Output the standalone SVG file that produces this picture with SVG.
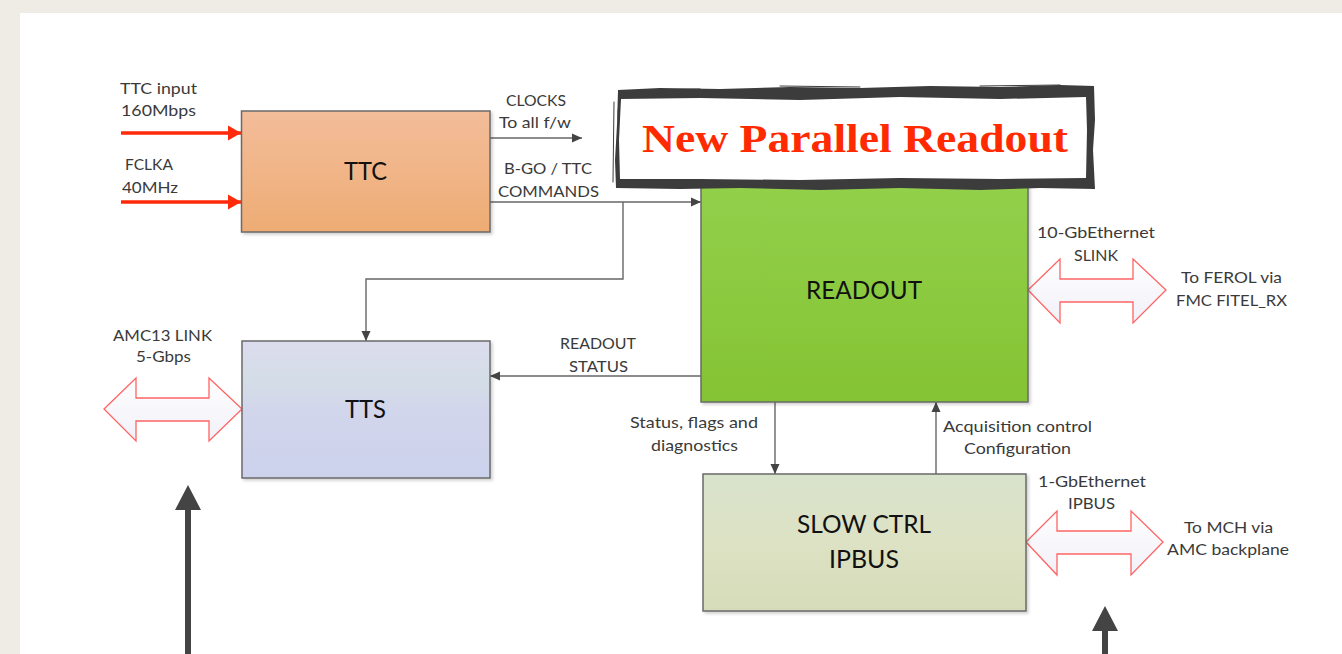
<svg xmlns="http://www.w3.org/2000/svg" width="1342" height="654" viewBox="0 0 1342 654">
  <defs>
    <style>
      .lbl { font-family: Lato, "Liberation Sans", sans-serif; font-size: 16px; fill: #3a3a3a; text-anchor: middle; }
      .name { font-family: Lato, "Liberation Sans", sans-serif; font-size: 25px; fill: #111; text-anchor: middle; }
      .box { stroke: #6a6a6a; stroke-width: 1.5; }
      .wire { fill: none; stroke: #666; stroke-width: 1.4; }
      .feed { fill: none; stroke: #ff2a0a; stroke-width: 3.5; }
      .link { fill: url(#linkFill); stroke: #ff6464; stroke-width: 1.3; stroke-linejoin: miter; }
      .big { fill: #444; }
      .brush { fill: #3c3c3c; }
      .scratch { fill: none; stroke: #3c3c3c; stroke-linecap: round; }
    </style>
    <linearGradient id="ttcFill" x1="0" y1="0" x2="0" y2="1">
      <stop offset="0" stop-color="#f3bd9a"/>
      <stop offset="1" stop-color="#eeac74"/>
    </linearGradient>
    <linearGradient id="ttsFill" x1="0" y1="0" x2="0" y2="1">
      <stop offset="0" stop-color="#dcdcee"/>
      <stop offset="0.3" stop-color="#d3dde6"/>
      <stop offset="0.5" stop-color="#d2d6ec"/>
      <stop offset="1" stop-color="#ccd2ec"/>
    </linearGradient>
    <linearGradient id="roFill" x1="0" y1="0" x2="0" y2="1">
      <stop offset="0" stop-color="#93d04c"/>
      <stop offset="1" stop-color="#84c333"/>
    </linearGradient>
    <linearGradient id="scFill" x1="0" y1="0" x2="0" y2="1">
      <stop offset="0" stop-color="#d8e3cc"/>
      <stop offset="0.5" stop-color="#dde2c4"/>
      <stop offset="1" stop-color="#d6dbb9"/>
    </linearGradient>
    <linearGradient id="linkFill" x1="0" y1="0" x2="0" y2="1">
      <stop offset="0" stop-color="#ffffff"/>
      <stop offset="1" stop-color="#f0f0f8"/>
    </linearGradient>
    <filter id="shadow" x="-5%" y="-5%" width="115%" height="115%">
      <feDropShadow dx="2" dy="2" stdDeviation="1.5" flood-color="#000" flood-opacity="0.18"/>
    </filter>
    <marker id="tip" markerUnits="userSpaceOnUse" markerWidth="12" markerHeight="10" refX="10" refY="5" orient="auto">
      <path d="M0,0.5 L10,5 L0,9.5 Z" fill="#444"/>
    </marker>
    <marker id="redTip" markerUnits="userSpaceOnUse" markerWidth="14" markerHeight="16" refX="13" refY="8" orient="auto">
      <path d="M0,0.5 L13,8 L0,15.5 Z" fill="#ff2a0a"/>
    </marker>
  </defs>

  <!-- paper background and white sheet -->
  <rect x="0" y="0" width="1342" height="654" fill="#efece6"/>
  <rect x="20" y="13" width="1322" height="641" fill="#ffffff"/>

  <!-- connectors -->
  <g id="connectors">
    <line class="feed" x1="121" y1="133" x2="241" y2="133" marker-end="url(#redTip)"/>
    <line class="feed" x1="121" y1="202" x2="241" y2="202" marker-end="url(#redTip)"/>
    <line class="wire" x1="490" y1="138" x2="582" y2="138" marker-end="url(#tip)"/>
    <line class="wire" x1="490" y1="202" x2="701" y2="202" marker-end="url(#tip)"/>
    <polyline class="wire" points="623,202 623,279 366,279 366,341" marker-end="url(#tip)"/>
    <line class="wire" x1="701" y1="376" x2="490" y2="376" marker-end="url(#tip)"/>
    <line class="wire" x1="775" y1="402" x2="775" y2="474" marker-end="url(#tip)"/>
    <line class="wire" x1="936" y1="474" x2="936" y2="402" marker-end="url(#tip)"/>

    <!-- external bidirectional links -->
    <path class="link" d="M104,409 L136,378 L136,398 L209,398 L209,378 L242,409 L209,441 L209,421 L136,421 L136,441 Z"/>
    <path class="link" d="M1028,290 L1060,259 L1060,279 L1133,279 L1133,259 L1166,290 L1133,323 L1133,302 L1060,302 L1060,323 Z"/>
    <path class="link" d="M1026,542 L1057,511 L1057,531 L1131,531 L1131,511 L1163,542 L1131,575 L1131,554 L1057,554 L1057,575 Z"/>

    <!-- heavy upward pointers -->
    <path class="big" d="M185,654 L185,510 L175,510 L188,485 L201,510 L191,510 L191,654 Z"/>
    <path class="big" d="M1102,654 L1102,631 L1092,631 L1105,606 L1118,631 L1108,631 L1108,654 Z"/>
  </g>

  <!-- connector labels -->
  <g id="labels" lengthAdjust="spacingAndGlyphs">
    <text class="lbl" x="158.5" y="94" textLength="77" lengthAdjust="spacingAndGlyphs">TTC input</text>
    <text class="lbl" x="158.5" y="116" textLength="75" lengthAdjust="spacingAndGlyphs">160Mbps</text>
    <text class="lbl" x="149" y="170" textLength="48" lengthAdjust="spacingAndGlyphs">FCLKA</text>
    <text class="lbl" x="150" y="193" textLength="56" lengthAdjust="spacingAndGlyphs">40MHz</text>
    <text class="lbl" x="536" y="106" textLength="60" lengthAdjust="spacingAndGlyphs">CLOCKS</text>
    <text class="lbl" x="535" y="128" textLength="72" lengthAdjust="spacingAndGlyphs">To all f/w</text>
    <text class="lbl" x="548" y="174" textLength="88" lengthAdjust="spacingAndGlyphs">B-GO / TTC</text>
    <text class="lbl" x="548.5" y="197" textLength="101" lengthAdjust="spacingAndGlyphs">COMMANDS</text>
    <text class="lbl" x="598" y="349" textLength="76" lengthAdjust="spacingAndGlyphs">READOUT</text>
    <text class="lbl" x="598.5" y="372" textLength="59" lengthAdjust="spacingAndGlyphs">STATUS</text>
    <text class="lbl" x="162.5" y="341" textLength="99" lengthAdjust="spacingAndGlyphs">AMC13 LINK</text>
    <text class="lbl" x="163.5" y="362" textLength="55" lengthAdjust="spacingAndGlyphs">5-Gbps</text>
    <text class="lbl" x="694" y="428" textLength="128" lengthAdjust="spacingAndGlyphs">Status, flags and</text>
    <text class="lbl" x="694.5" y="451" textLength="87" lengthAdjust="spacingAndGlyphs">diagnostics</text>
    <text class="lbl" x="1017.5" y="432" textLength="149" lengthAdjust="spacingAndGlyphs">Acquisition control</text>
    <text class="lbl" x="1017.5" y="454" textLength="107" lengthAdjust="spacingAndGlyphs">Configuration</text>
    <text class="lbl" x="1096" y="238" textLength="118" lengthAdjust="spacingAndGlyphs">10-GbEthernet</text>
    <text class="lbl" x="1096" y="261" textLength="44" lengthAdjust="spacingAndGlyphs">SLINK</text>
    <text class="lbl" x="1231.5" y="283" textLength="101" lengthAdjust="spacingAndGlyphs">To FEROL via</text>
    <text class="lbl" x="1231.5" y="306" textLength="111" lengthAdjust="spacingAndGlyphs">FMC FITEL_RX</text>
    <text class="lbl" x="1092" y="487" textLength="108" lengthAdjust="spacingAndGlyphs">1-GbEthernet</text>
    <text class="lbl" x="1091.5" y="509" textLength="47" lengthAdjust="spacingAndGlyphs">IPBUS</text>
    <text class="lbl" x="1228.5" y="533" textLength="89" lengthAdjust="spacingAndGlyphs">To MCH via</text>
    <text class="lbl" x="1228" y="555" textLength="122" lengthAdjust="spacingAndGlyphs">AMC backplane</text>
  </g>

  <!-- blocks -->
  <g id="ttc">
    <rect class="box" x="241.5" y="111" width="248.5" height="121" fill="url(#ttcFill)" filter="url(#shadow)"/>
    <text class="name" x="365.5" y="180" textLength="43" lengthAdjust="spacingAndGlyphs">TTC</text>
  </g>
  <g id="tts">
    <rect class="box" x="242" y="341" width="248" height="137" fill="url(#ttsFill)" filter="url(#shadow)"/>
    <text class="name" x="365.5" y="418" textLength="41" lengthAdjust="spacingAndGlyphs">TTS</text>
  </g>
  <g id="readout">
    <rect class="box" x="701" y="179" width="327" height="223" fill="url(#roFill)" filter="url(#shadow)"/>
    <text class="name" x="864" y="299" textLength="116" lengthAdjust="spacingAndGlyphs">READOUT</text>
  </g>
  <g id="slow-ctrl">
    <rect class="box" x="703" y="474" width="323" height="137" fill="url(#scFill)" filter="url(#shadow)"/>
    <text class="name" x="864" y="533" textLength="134" lengthAdjust="spacingAndGlyphs">SLOW CTRL</text>
    <text class="name" x="864" y="568" textLength="70" lengthAdjust="spacingAndGlyphs">IPBUS</text>
  </g>

  <!-- brush-framed title banner -->
  <g id="title">
    <rect x="620" y="97" width="467" height="83" fill="#ffffff"/>
    <path class="brush" fill-rule="evenodd" d="
      M618,90 L660,88 L720,89 L790,87 L860,88 L930,86 L1000,87 L1060,85 L1094,86
      L1095,120 L1093,150 L1095,189 L1040,188 L980,190 L900,188 L820,190 L740,188 L680,189 L616,188
      L615,160 L617,125 Z
      M621,99 L700,98 L800,100 L900,97 L1000,99 L1086,97
      L1087,130 L1086,178 L1000,179 L900,178 L800,180 L700,179 L620,179
      L619,140 Z"/>
    <path class="scratch" stroke-width="1" d="M640,90 L700,89 M780,86 L860,87 M980,86 L1060,85 M1090,100 L1089,180 M614,102 L613,182"/>
    <path class="scratch" stroke="#ffffff" stroke-width="0.8" stroke-dasharray="9 6" d="M630,93 L760,92 M900,92 L1040,91 M640,184 L780,185 M950,185 L1080,184 M618,110 L618,170"/>
    <text x="855" y="152" text-anchor="middle" textLength="426" lengthAdjust="spacingAndGlyphs"
          font-family="'Liberation Serif', 'DejaVu Serif', serif" font-weight="bold" font-size="41" fill="#ff2a00">New Parallel Readout</text>
  </g>
</svg>
